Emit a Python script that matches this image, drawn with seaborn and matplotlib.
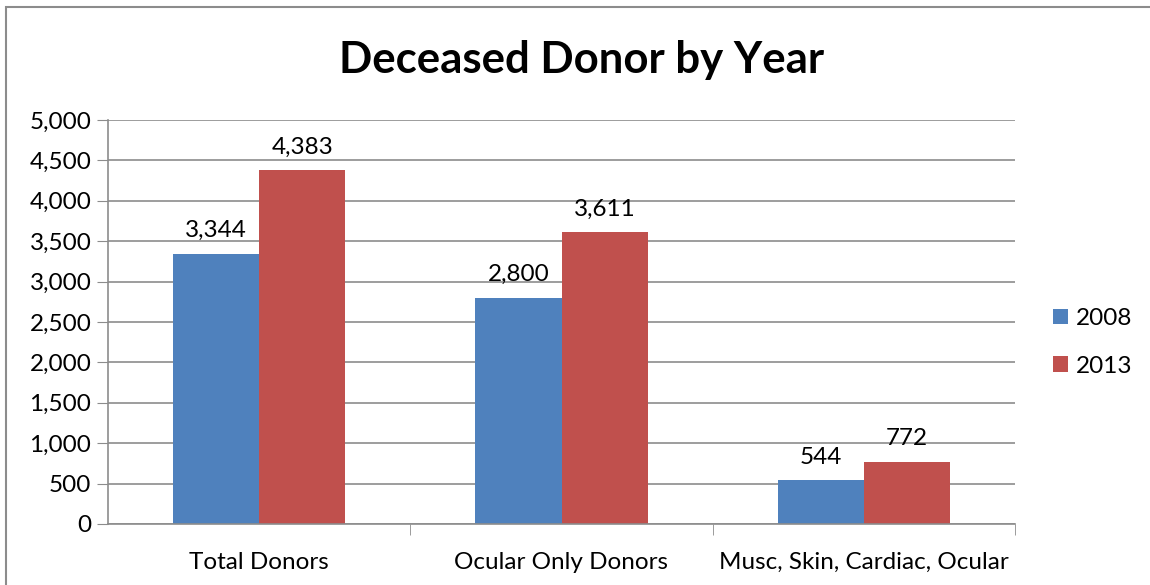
import numpy as np
import pandas as pd
import seaborn as sns
import matplotlib.pyplot as plt
from matplotlib.patches import Rectangle
from matplotlib.ticker import FuncFormatter

categories = ["Total Donors", "Ocular Only Donors", "Musc, Skin, Cardiac, Ocular"]
years = ["2008", "2013"]
donors_2008 = [3344, 2800, 544]
donors_2013 = [4383, 3611, 772]

df = pd.DataFrame({
    "category": categories * 2,
    "year": [years[0]] * 3 + [years[1]] * 3,
    "value": donors_2008 + donors_2013,
})

sns.set_style("white")
plt.rcParams["font.family"] = ["Lato", "DejaVu Sans"]
plt.rcParams["text.color"] = "black"
plt.rcParams["xtick.color"] = "black"
plt.rcParams["ytick.color"] = "black"

fig = plt.figure(figsize=(11.5, 5.85), dpi=100)
ax = fig.add_axes([108 / 1150, 1 - 524 / 585, (1015 - 108) / 1150, (524 - 120) / 585])

pal = {"2008": "#4F81BD", "2013": "#C0504D"}
sns.barplot(data=df, x="category", y="value", hue="year", palette=pal,
            width=0.57, saturation=1, ax=ax, edgecolor="none")

# labels above bars
for cont in ax.containers:
    ax.bar_label(cont, labels=[f"{v:,.0f}" for v in cont.datavalues],
                 padding=9, fontsize=17.5, color="black")

ax.set_ylim(0, 5000)
ax.set_xlim(-0.5, 2.5)
ax.set_yticks(np.arange(0, 5001, 500))
ax.yaxis.set_major_formatter(FuncFormatter(lambda v, p: f"{v:,.0f}"))
ax.yaxis.grid(True, color="#8c8c8c", linewidth=1.2)
ax.set_axisbelow(True)
ax.set_xlabel("")
ax.set_ylabel("")

for s in ["top", "right"]:
    ax.spines[s].set_visible(False)
ax.spines["left"].set_color("#8c8c8c")
ax.spines["bottom"].set_color("#8c8c8c")
ax.spines["left"].set_linewidth(1.2)
ax.spines["bottom"].set_linewidth(1.2)

ax.tick_params(axis="y", length=8, color="#8c8c8c", labelcolor="black", labelsize=17.5, pad=4, left=True)
ax.tick_params(axis="x", length=0, labelcolor="black", labelsize=17.5, pad=20)
ax.set_xticks([0, 1, 2])
ax.set_xticks([0.5, 1.5, 2.5], minor=True)
ax.tick_params(axis="x", which="minor", length=8, color="#8c8c8c", bottom=True)

leg = ax.legend(loc="center left", bbox_to_anchor=(1.018, 0.45), frameon=False,
                fontsize=17.5, handlelength=0.6, handleheight=0.6,
                labelspacing=1.1, handletextpad=0.35)

fig.text(582 / 1150, 1 - 60 / 585, "Deceased Donor by Year", ha="center", va="center",
         fontsize=31.5, fontweight="bold")

fig.patches.append(Rectangle((6 / 1150, -0.05), 1.1, 1 - 7 / 585 + 0.05,
                             transform=fig.transFigure, fill=False,
                             edgecolor="#8c8c8c", linewidth=1.5))

fig.savefig("out.png", dpi=100)
